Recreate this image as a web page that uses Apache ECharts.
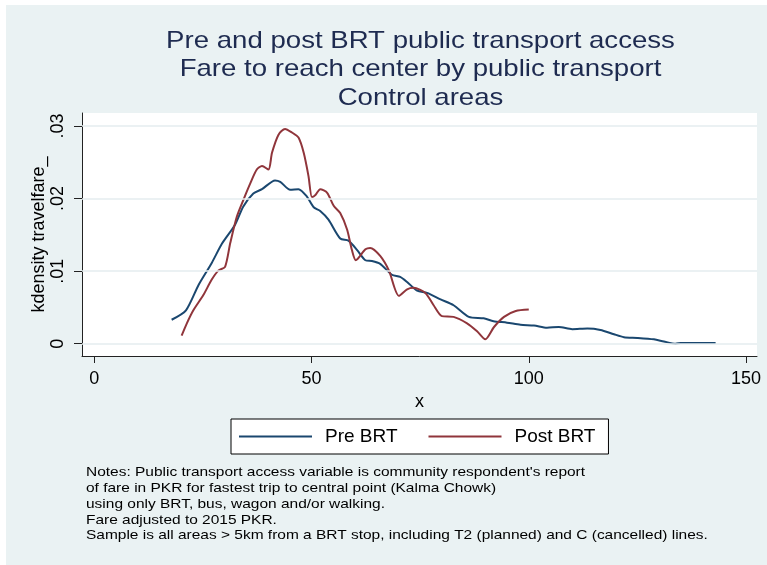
<!DOCTYPE html>
<html>
<head>
<meta charset="utf-8">
<script src="https://cdn.jsdelivr.net/npm/echarts@6/dist/echarts.min.js"></script>
<style>
  html, body { margin: 0; padding: 0; background: #ffffff; }
  #chart { width: 767px; height: 565px; }
</style>
</head>
<body>
<div id="chart"></div>
<script>
// ---- Data ----
const titleLines = [
  'Pre and post BRT public transport access',
  'Fare to reach center by public transport',
  'Control areas'
];
const noteLines = [
  "Notes: Public transport access variable is community respondent's report",
  'of fare in PKR for fastest trip to central point (Kalma Chowk)',
  'using only BRT, bus, wagon and/or walking.',
  'Fare adjusted to 2015 PKR.',
  'Sample is all areas > 5km from a BRT stop, including T2 (planned) and C (cancelled) lines.'
];
const seriesNames = ['Pre BRT', 'Post BRT'];
const xTicks = [0, 50, 100, 150];
const yTicks = [0, 0.01, 0.02, 0.03];

const preX = [17.8, 21.1, 24.0, 27.0, 29.4, 32.4, 34.3, 36.6, 38.6, 41.6, 42.8, 45.1, 47.0, 48.9, 50.5, 52.0, 53.9, 56.6, 58.5, 60.5, 62.4, 63.9, 65.8, 68.5, 70.4, 72.0, 74.3, 76.6, 79.7, 82.7, 86.2, 89.6, 91.9, 95.0, 98.1, 101.2, 104.2, 106.9, 110.0, 113.5, 116.5, 119.6, 121.9, 125.0, 128.8, 131.1, 133.8, 135.0, 143.0];
const preY = [0.0033, 0.0046, 0.0081, 0.0111, 0.0138, 0.0164, 0.0189, 0.0207, 0.0213, 0.0225, 0.0223, 0.0212, 0.0213, 0.0203, 0.0188, 0.0183, 0.0171, 0.0145, 0.0142, 0.0129, 0.0115, 0.0114, 0.0110, 0.0095, 0.0092, 0.0085, 0.0073, 0.0070, 0.0061, 0.0053, 0.0037, 0.0035, 0.0031, 0.0029, 0.0026, 0.0025, 0.0022, 0.0023, 0.0020, 0.0021, 0.0019, 0.0013, 0.0009, 0.0008, 0.0006, 0.0003, 0.0000, 0.0001, 0.0001];

const postX = [20.1, 21.3, 22.8, 25.1, 27.0, 28.6, 30.1, 31.3, 32.8, 34.3, 35.9, 37.4, 38.6, 40.1, 40.9, 42.4, 43.9, 45.5, 47.0, 48.2, 49.3, 50.1, 50.9, 52.0, 53.6, 55.1, 56.6, 58.2, 59.3, 60.2, 62.4, 63.5, 65.8, 67.8, 70.1, 72.0, 73.5, 76.2, 78.1, 80.0, 82.7, 85.8, 88.1, 90.0, 92.0, 94.3, 97.0, 100.0];
const postY = [0.0011, 0.0028, 0.0046, 0.0067, 0.0088, 0.0101, 0.0106, 0.0139, 0.0175, 0.0198, 0.0221, 0.0240, 0.0245, 0.0240, 0.0263, 0.0288, 0.0296, 0.0291, 0.0284, 0.0263, 0.0231, 0.0202, 0.0205, 0.0213, 0.0208, 0.0190, 0.0180, 0.0157, 0.0129, 0.0115, 0.0130, 0.0132, 0.0121, 0.0101, 0.0066, 0.0075, 0.0077, 0.0070, 0.0053, 0.0038, 0.0037, 0.0028, 0.0017, 0.0006, 0.0023, 0.0037, 0.0045, 0.0047];

// ---- Build chart ----
const FONT = '"Liberation Sans", Arial, sans-serif';
const pair = (xs, ys) => xs.map((x, i) => [x, ys[i]]);
const fmtY = v => (v === 0 ? '0' : String(+v.toFixed(3)).replace(/^0/, ''));

const chart = echarts.init(document.getElementById('chart'), null, { renderer: 'canvas' });
chart.setOption({
  animation: false,
  backgroundColor: 'transparent',
  textStyle: { fontFamily: FONT },
  graphic: [
    { type: 'rect', z: -100, silent: true,
      shape: { x: 6, y: 5, width: 767, height: 565 },
      style: { fill: '#EAF2F3' } },
    { type: 'text', x: 420.5, y: 27, scaleX: 1.15, silent: true,
      style: { text: titleLines.join('\n'), font: '24px ' + FONT, fill: '#1e2b50',
               textAlign: 'center', lineHeight: 28.4 } },
    { type: 'text', x: 86, y: 465, scaleX: 1.19, silent: true,
      style: { text: noteLines.join('\n'), font: '13px ' + FONT, fill: '#000',
               textAlign: 'left', lineHeight: 15.7 } }
  ],
  grid: {
    left: 82, right: 10, top: 113, bottom: 209,
    show: true, backgroundColor: '#ffffff', borderWidth: 0
  },
  legend: {
    data: seriesNames,
    left: 231, top: 419,
    orient: 'horizontal',
    backgroundColor: '#ffffff',
    borderColor: '#000', borderWidth: 1,
    padding: [8, 13, 8, 8],
    icon: 'rect',
    itemWidth: 73, itemHeight: 2, itemGap: 31,
    textStyle: { fontSize: 19, color: '#000', fontFamily: FONT, padding: [0, 0, 0, 8] }
  },
  xAxis: {
    type: 'value', min: -2.83, max: 152.53,
    axisLine: { show: true, onZero: false, lineStyle: { color: '#222', width: 1 } },
    axisTick: { show: true, customValues: xTicks, length: 7, lineStyle: { color: '#222' } },
    axisLabel: { customValues: xTicks, fontSize: 18, color: '#000', margin: 14 },
    splitLine: { show: false },
    name: 'x', nameLocation: 'middle', nameGap: 37, nameMoveOverlap: false,
    nameTextStyle: { fontSize: 18, color: '#000' }
  },
  yAxis: {
    type: 'value', min: -0.001695, max: 0.03179,
    axisLine: { show: true, onZero: false, lineStyle: { color: '#222', width: 1 } },
    axisTick: { show: true, customValues: yTicks, length: 8, lineStyle: { color: '#222' } },
    axisLabel: { customValues: yTicks, fontSize: 18, color: '#000', rotate: 90, margin: 15,
                 formatter: fmtY },
    splitLine: { show: false },
    name: 'kdensity travelfare_', nameLocation: 'middle', nameRotate: 90, nameGap: 34,
    nameMoveOverlap: false,
    nameTextStyle: { fontSize: 18, color: '#000' }
  },
  series: [
    {
      name: 'grid', type: 'line', data: [], z: 1, silent: true,
      markLine: {
        silent: true, symbol: 'none', label: { show: false },
        lineStyle: { color: '#e4ecef', width: 1.6, type: 'solid' },
        data: yTicks.map(v => ({ yAxis: v }))
      }
    },
    {
      name: seriesNames[0], type: 'line', data: pair(preX, preY),
      symbol: 'none', smooth: 0.25, z: 3,
      lineStyle: { color: '#1a476f', width: 2 }, itemStyle: { color: '#1a476f' }
    },
    {
      name: seriesNames[1], type: 'line', data: pair(postX, postY),
      symbol: 'none', smooth: 0.25, z: 3,
      lineStyle: { color: '#90353b', width: 2 }, itemStyle: { color: '#90353b' }
    }
  ]
});
</script>
</body>
</html>
